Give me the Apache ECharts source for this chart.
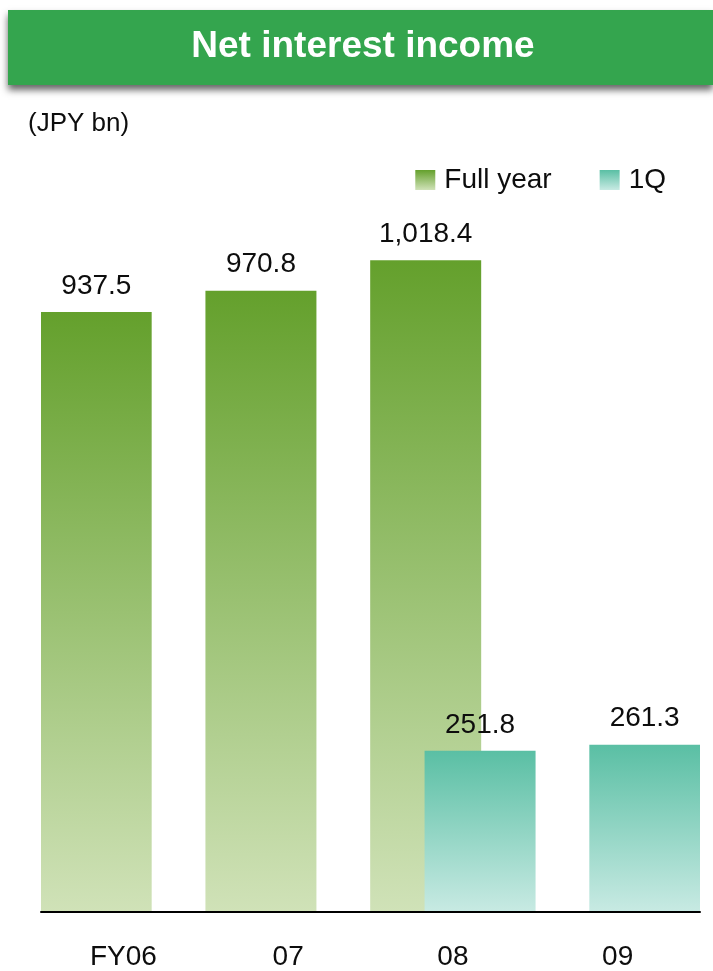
<!DOCTYPE html>
<html>
<head>
<meta charset="utf-8">
<script src="https://cdn.jsdelivr.net/npm/echarts@6/dist/echarts.min.js"></script>
<style>
  html, body { margin: 0; padding: 0; background: #fff; }
  #main { width: 713px; height: 971px; }
</style>
</head>
<body>
<div id="main"></div>
<script>
var categories = ['FY06', '07', '08', '09'];
var fullYear = [937.5, 970.8, 1018.4, '-'];
var firstQuarter = ['-', '-', 251.8, 261.3];
var seriesNames = ['Full year', '1Q'];

var font = '"Liberation Sans", Arial, sans-serif';

function fmt(v) {
    var parts = String(v).split('.');
    parts[0] = parts[0].replace(/\B(?=(\d{3})+(?!\d))/g, ',');
    return parts.join('.');
}

var chart = echarts.init(document.getElementById('main'));

function barLabel() {
    return {
        show: true,
        position: 'top',
        distance: 12,
        color: '#0d0d0d',
        fontSize: 28,
        fontFamily: font,
        formatter: function (p) { return fmt(p.value); }
    };
}

chart.setOption({
    animation: false,
    graphic: [{
        type: 'rect',
        left: 8, top: 10,
        shape: { width: 705, height: 75 },
        style: {
            fill: '#34a54e',
            shadowColor: 'rgba(0,0,0,0.6)',
            shadowBlur: 7,
            shadowOffsetY: 5
        },
        z: 10
    }, {
        type: 'text',
        x: 363,
        y: 47,
        style: {
            text: 'Net interest income',
            fill: '#fff',
            font: 'bold 37px ' + font,
            textAlign: 'center',
            textVerticalAlign: 'middle'
        },
        z: 11
    }, {
        type: 'text',
        x: 28,
        y: 124,
        style: {
            text: '(JPY bn)',
            fill: '#0d0d0d',
            font: '26px ' + font,
            textVerticalAlign: 'middle'
        }
    }],
    legend: {
        data: seriesNames,
        right: 42,
        top: 161,
        itemWidth: 20,
        itemHeight: 20,
        itemGap: 48,
        icon: 'rect',
        textStyle: { fontSize: 28, color: '#0d0d0d', fontFamily: font, padding: [0, 0, 0, 4] }
    },
    grid: { left: 41, right: 13, top: 208, bottom: 59 },
    xAxis: {
        type: 'category',
        data: categories,
        z: 10,
        axisTick: { show: false },
        axisLine: { lineStyle: { color: '#000', width: 2 } },
        axisLabel: { color: '#0d0d0d', fontSize: 28, fontFamily: font, margin: 31 }
    },
    yAxis: {
        type: 'value',
        min: 0,
        max: 1100,
        show: false,
        splitLine: { show: false }
    },
    series: [{
        name: seriesNames[0],
        type: 'bar',
        data: fullYear,
        barWidth: 111,
        barGap: '-51%',
        itemStyle: {
            color: new echarts.graphic.LinearGradient(0, 0, 0, 1, [
                { offset: 0, color: '#64a02c' },
                { offset: 1, color: '#d0e2b8' }
            ])
        },
        label: barLabel()
    }, {
        name: seriesNames[1],
        type: 'bar',
        data: firstQuarter,
        barWidth: 111,
        z: 3,
        itemStyle: {
            color: new echarts.graphic.LinearGradient(0, 0, 0, 1, [
                { offset: 0, color: '#5abfa4' },
                { offset: 1, color: '#c8eae3' }
            ])
        },
        label: barLabel()
    }]
});
</script>
</body>
</html>
